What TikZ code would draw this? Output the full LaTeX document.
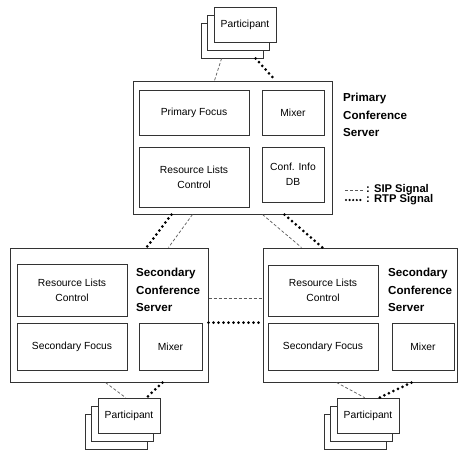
\documentclass[tikz,border=0pt]{standalone}
\usepackage{fontspec}
\setmainfont{Liberation Sans}
\usetikzlibrary{calc}
\tikzset{
	box/.style={draw=black!80,line width=.8pt,fill=white,inner sep=0pt,align=center,font=\fontsize{10.3}{15}\selectfont},
	server/.style={box,line width=1pt},
	part/.style={box,minimum width=62pt,minimum height=35pt},
	srvlabel/.style={anchor=north west,inner sep=0pt,align=left,font=\bfseries\fontsize{11.6}{17.5}\selectfont},
	legend/.style={anchor=west,inner sep=0pt,font=\bfseries\fontsize{11.2}{12}\selectfont},
	sip/.style={draw=black!65,line width=.7pt,dash pattern=on 3pt off 2pt},
	rtp/.style={draw=black,line width=3pt,line cap=round,dash pattern=on 0pt off 5pt},
}
\begin{document}
\begin{tikzpicture}[x=1pt,y=-1pt]
	\useasboundingbox (0,0) rectangle (458,453);
	% primary conference server
	\node[server,minimum width=199pt,minimum height=133pt] (prim) at (232.5,147.5) {};
	\node[box,minimum width=110pt,minimum height=45pt] (pfocus) at (194,112.5) {Primary Focus};
	\node[box,minimum width=62pt,minimum height=45pt] (pmixer) at (293,112.5) {Mixer};
	\node[box,minimum width=110pt,minimum height=60pt] (prlc) at (194,177) {Resource Lists\\Control};
	\node[box,minimum width=62pt,minimum height=55pt] (pdb) at (293,174.5) {Conf. Info\\DB};
	\node[srvlabel] (plbl) at (343,93) {Primary\\Conference\\Server};
	% secondary conference servers
	\node[server,minimum width=198pt,minimum height=134pt] (secl) at (109,315) {};
	\node[box,minimum width=110pt,minimum height=52pt] (lrlc) at (72,290) {Resource Lists\\Control};
	\node[box,minimum width=110pt,minimum height=47pt] (lfocus) at (72,346.5) {Secondary Focus};
	\node[box,minimum width=63pt,minimum height=47pt] (lmixer) at (170.5,346.5) {Mixer};
	\node[srvlabel] (llbl) at (136,268) {Secondary\\Conference\\Server};
	\node[server,minimum width=194pt,minimum height=134pt] (secr) at (360,315) {};
	\node[box,minimum width=110pt,minimum height=51pt] (rrlc) at (323,290.5) {Resource Lists\\Control};
	\node[box,minimum width=110pt,minimum height=47pt] (rfocus) at (323,346.5) {Secondary Focus};
	\node[box,minimum width=62pt,minimum height=47pt] (rmixer) at (423,346.5) {Mixer};
	\node[srvlabel] (rlbl) at (388,268) {Secondary\\Conference\\Server};
	% participants
	\foreach \n/\x/\y in {pt/245/24.5,pl/129/415.5,pr/368/415.5}{
		\node[part] (\n a) at (\x-13,\y+16) {};
		\node[part] (\n b) at (\x-7,\y+8) {};
		\node[part] (\n c) at (\x,\y) {Participant};
	}
	% signals
	\draw[sip]($(pta.south west)+(21,0)$)--($(prim.north west)+(82,0)$);
	\draw[rtp]($(pta.south west)+(55,0)$)--($(prim.north west)+(143,0)$);
	\draw[rtp]($(prim.south west)+(39,0)$)--($(secl.north west)+(137,0)$);
	\draw[sip]($(prim.south west)+(60,0)$)--($(secl.north west)+(159,0)$);
	\draw[sip]($(prim.south west)+(130,0)$)--($(secr.north west)+(39,0)$);
	\draw[rtp]($(prim.south west)+(152,0)$)--($(secr.north west)+(60,0)$);
	\draw[sip]($(secl.north east)+(0,51)$)--($(secr.north west)+(0,51)$);
	\draw[rtp]($(secl.north east)+(0,75)$)--($(secr.north west)+(0,75)$);
	\draw[sip]($(secl.south west)+(96,0)$)--($(plc.north west)+(28,0)$);
	\draw[rtp]($(secl.south west)+(153,0)$)--($(plc.north west)+(49,0)$);
	\draw[sip]($(secr.south west)+(74,0)$)--($(prc.north west)+(28,0)$);
	\draw[rtp]($(secr.south west)+(149,0)$)--($(prc.north west)+(43,0)$);
	% legend
	\node[legend] (sipl) at (366,190) {: SIP Signal};
	\node[legend] (rtpl) at (366,200) {: RTP Signal};
	\draw[sip]($(sipl.west)+(-21,0)$)--($(sipl.west)+(-3,0)$);
	\draw[rtp,line width=2.4pt,dash pattern=on 0pt off 3.6pt]($(rtpl.west)+(-20,0)$)--($(rtpl.west)+(-3,0)$);
\end{tikzpicture}
\end{document}
